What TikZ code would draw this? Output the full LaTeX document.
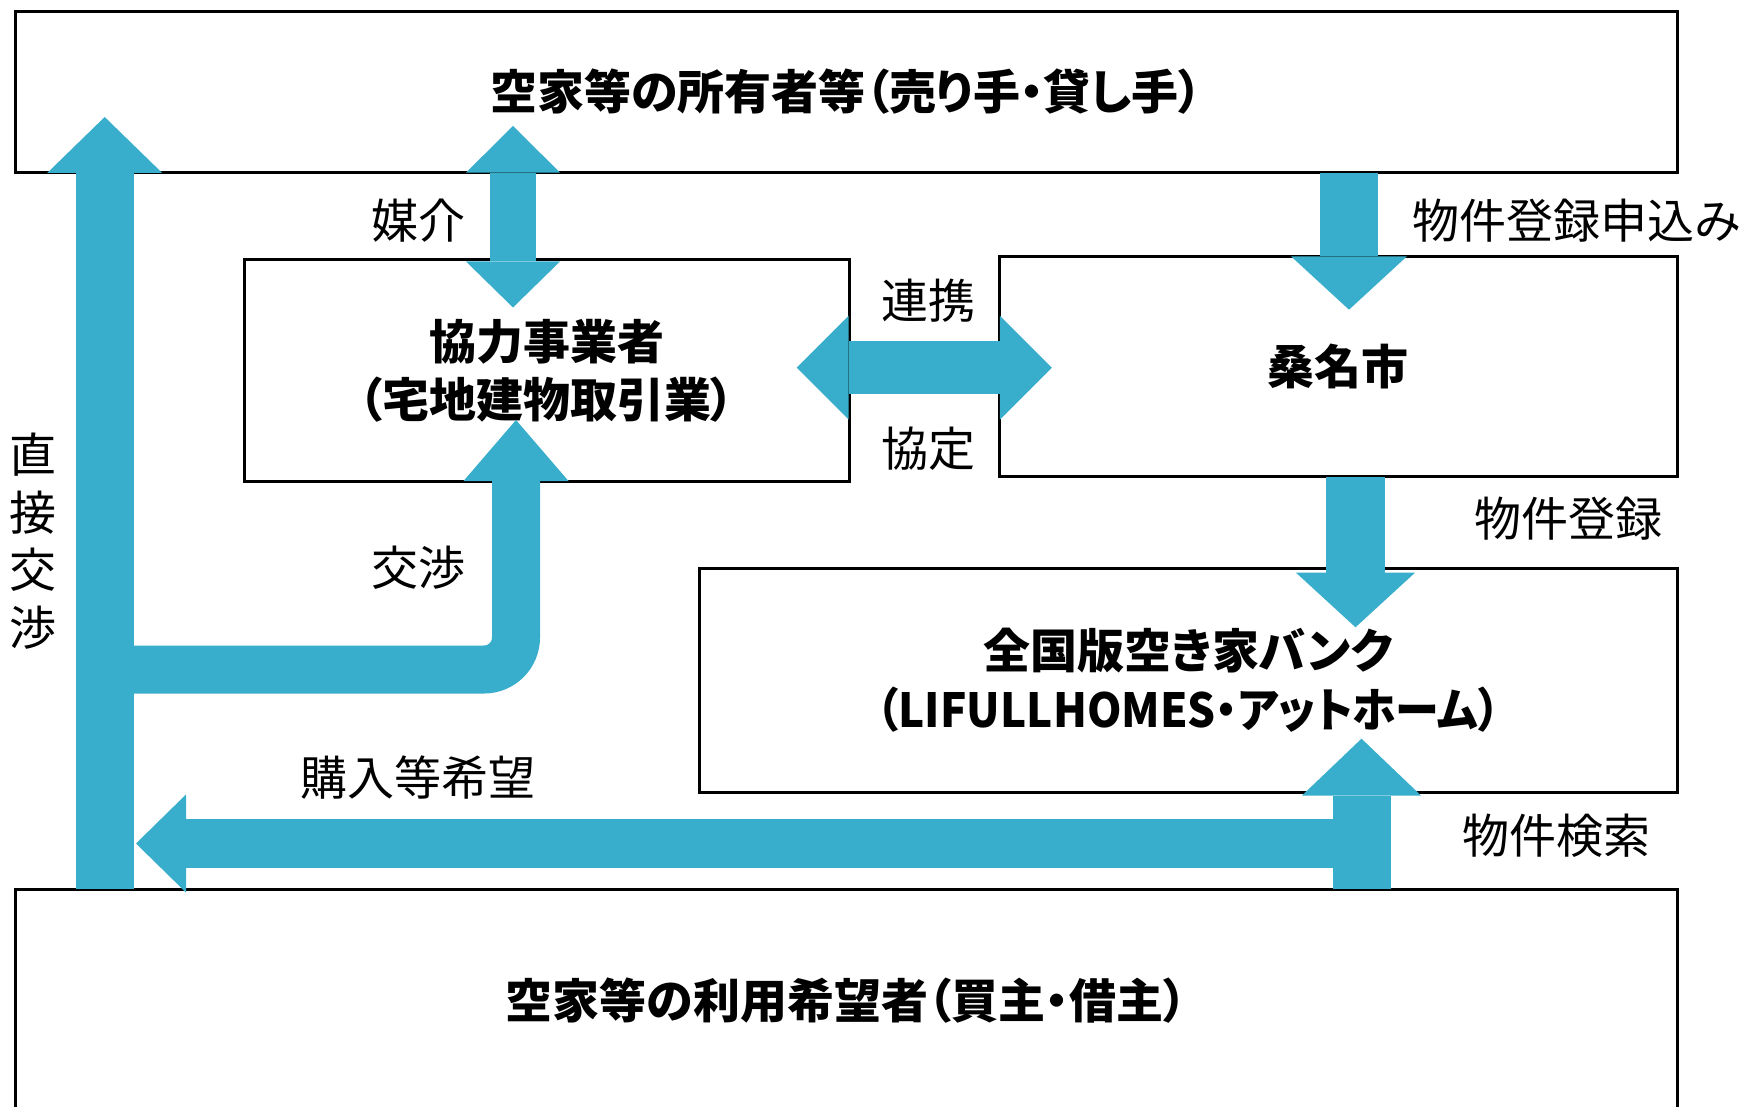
\documentclass[tikz,border=0pt]{standalone}
\usepackage{fontspec}
\usepackage{graphicx}
\setmainfont{Noto Sans CJK JP}[RawFeature=+palt]
\usetikzlibrary{arrows.meta}
\definecolor{ab}{RGB}{56,174,204}
\tikzset{
  box/.style={draw=black, line width=1.5pt, inner sep=0pt, outer sep=0pt, align=center,
    font=\bfseries\fontsize{23.5}{29}\selectfont},
  lbl/.style={inner sep=0pt, outer sep=0pt, font=\fontsize{23.5}{29}\selectfont},
  fat/.style={draw=ab, line cap=butt, line join=miter},
}
\begin{document}
\begin{tikzpicture}[x=0.5pt,y=-0.5pt]
\useasboundingbox (0,0) rectangle (1747,1107);
\clip (0,0) rectangle (1747,1107);
% boxes
\node[box, minimum width=830.7pt, minimum height=80.8pt] (owner) at (846.3,91.9) {空家等の所有者等（売り手・貸し手）};
\node[box, minimum width=302.5pt, minimum height=110.85pt] (agent) at (546.5,370.45) {協力事業者\\（宅地建物取引業）};
\node[box, minimum width=338.8pt, minimum height=110.3pt] (city) at (1338.2,366.6) {桑名市};
\node[box, minimum width=488.65pt, minimum height=112pt, font=\bfseries\fontsize{23.5}{29.5}\selectfont] (bank) at (1188.35,680.2) {全国版空き家バンク\\\scalebox{0.935}[1]{（LIFULLHOMES・アットホーム）}};
\node[box, minimum width=830.7pt, minimum height=111.5pt] (user) at (846.3,1000.5) {空家等の利用希望者（買主・借主）};
% labels
\node[lbl] (lmed) at (418,220.6) {媒介};
\node[lbl] (lren) at (928,300.8) {連携};
\node[lbl] (lkyo) at (928,449) {協定};
\node[lbl] (lkou) at (418,568) {交渉};
\node[lbl] (lbuy) at (418,777.7) {購入等希望};
\node[lbl, anchor=west] (lapp) at (1412.8,220.6) {物件登録申込み};
\node[lbl] (lreg) at (1568,519) {物件登録};
\node[lbl] (lsea) at (1556.5,835.6) {物件検索};
\node[lbl, align=center, font=\fontsize{23.5}{28.8}\selectfont] (ldir) at (33.4,541) {直\\接\\交\\渉};
% arrow end points
\coordinate (tD) at (104.7,117);
\coordinate (mT) at (513,126);
\coordinate (mB) at (513,307.5);
\coordinate (cL) at (796.7,367.7);
\coordinate (cR) at (1051.8,367.7);
\coordinate (tA) at (1349,309.7);
\coordinate (tR) at (1355.5,627.3);
\coordinate (tS) at (1361.5,738.7);
\coordinate (jS) at (1361.5,843.5);
\coordinate (tB) at (136,843.5);
\coordinate (jK) at (104.7,669.5);
\coordinate (tK) at (516,420);
% arrows
\draw[fat, line width=29pt, -{Triangle[width=57.5pt,length=28pt,line width=0pt]}] (user.north -| tD) -- (tD);
\draw[fat, line width=24pt, rounded corners=16pt, -{Triangle[width=52.5pt,length=30.5pt,line width=0pt]}] (jK) -| (tK);
\draw[fat, line width=23pt, {Triangle[width=47pt,length=23.3pt,line width=0pt]}-{Triangle[width=47pt,length=23pt,line width=0pt]}] (mT) -- (mB);
\draw[fat, line width=26.5pt, {Triangle[width=52pt,length=26pt,line width=0pt]}-{Triangle[width=52pt,length=26pt,line width=0pt]}] (cL) -- (cR);
\draw[fat, line width=29pt, -{Triangle[width=58pt,length=26.7pt,line width=0pt]}] (owner.south -| tA) -- (tA);
\draw[fat, line width=29.5pt, -{Triangle[width=59.5pt,length=27.3pt,line width=0pt]}] (city.south -| tR) -- (tR);
\draw[fat, line width=29pt, -{Triangle[width=59.5pt,length=28.4pt,line width=0pt]}] (user.north -| tS) -- (tS);
\draw[fat, line width=24.5pt, -{Triangle[width=49pt,length=25pt,line width=0pt]}] (jS) -- (tB);
\end{tikzpicture}
\end{document}
